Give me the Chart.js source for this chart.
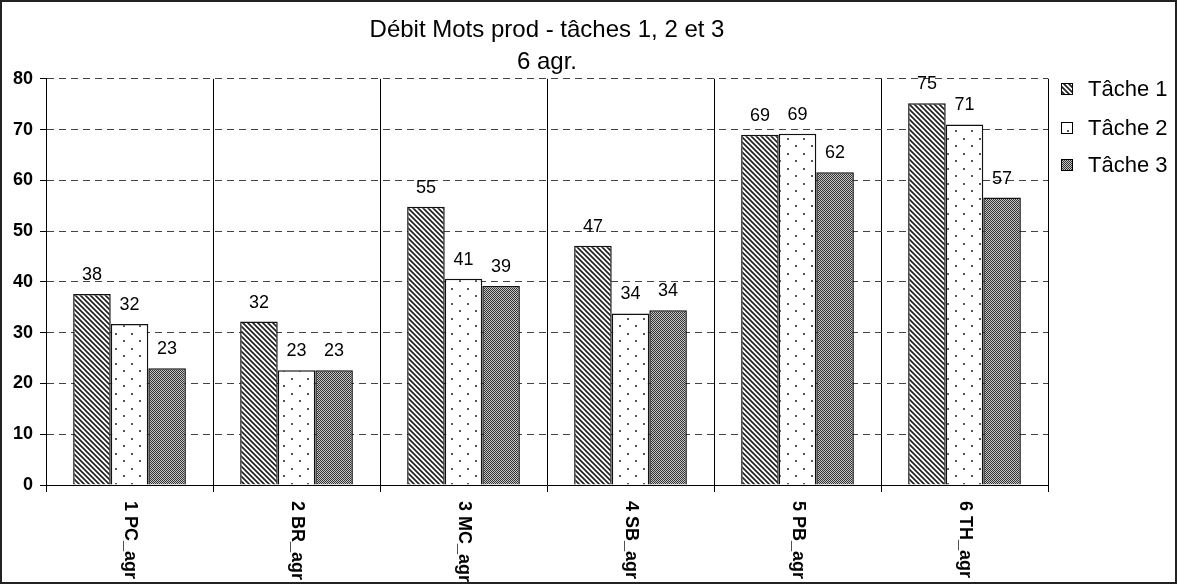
<!DOCTYPE html>
<html>
<head>
<meta charset="utf-8">
<script src="https://cdn.jsdelivr.net/npm/chart.js@4.4.0/dist/chart.umd.min.js"></script>
<style>
  html, body { margin: 0; padding: 0; background: #fff; }
  #wrap { width: 1177px; height: 584px; position: relative; }
</style>
</head>
<body>
<div id="wrap"><canvas id="canvas-1"></canvas></div>
<script>
// data
var categories = ['1 PC_agr', '2 BR_agr', '3 MC_agr', '4 SB_agr', '5 PB_agr', '6 TH_agr'];
var seriesNames = ['Tâche 1', 'Tâche 2', 'Tâche 3'];
var tache1 = [37.6, 32.2, 54.8, 47.1, 69.0, 75.2];
var tache2 = [31.7, 22.6, 40.6, 33.8, 69.2, 71.0];
var tache3 = [23.0, 22.6, 39.2, 34.4, 61.6, 56.6];
var yTicks = [0, 10, 20, 30, 40, 50, 60, 70, 80];
var titleLines = ['Débit Mots prod - tâches 1, 2 et 3', '6 agr.'];

var FONT = '"Liberation Sans", Arial, sans-serif';
Chart.defaults.font.family = FONT;
Chart.defaults.color = '#000';

// fill patterns like the old excel ones
function makePattern(kind) {
  var c = document.createElement('canvas');
  var g = c.getContext('2d');
  if (kind === 'hatch') {
    c.width = 5; c.height = 5;
    g.fillStyle = '#fff'; g.fillRect(0, 0, 5, 5);
    g.strokeStyle = '#222'; g.lineWidth = 1.7;
    g.beginPath();
    g.moveTo(-1, -1); g.lineTo(6, 6);
    g.moveTo(-1, 4); g.lineTo(1, 6);
    g.moveTo(4, -1); g.lineTo(6, 1);
    g.stroke();
  } else if (kind === 'dots') {
    c.width = 16; c.height = 15;
    g.fillStyle = '#fff'; g.fillRect(0, 0, 16, 15);
    g.fillStyle = '#555';
    g.fillRect(3, 3, 2, 2);
    g.fillRect(11, 10, 2, 2);
  } else {
    c.width = 2; c.height = 2;
    g.fillStyle = '#c4c4c4'; g.fillRect(0, 0, 2, 2);
    g.fillStyle = '#333';
    g.fillRect(0, 0, 1, 1);
    g.fillRect(1, 1, 1, 1);
  }
  return g.createPattern(c, 'repeat');
}

var fills = [makePattern('hatch'), makePattern('dots'), makePattern('check')];

// value above each bar
var barValueLabels = {
  id: 'barValueLabels',
  afterDatasetsDraw: function (chart) {
    var ctx = chart.ctx;
    ctx.save();
    ctx.font = '18px ' + FONT;
    ctx.fillStyle = '#000';
    ctx.textAlign = 'center';
    ctx.textBaseline = 'alphabetic';
    chart.data.datasets.forEach(function (ds, i) {
      chart.getDatasetMeta(i).data.forEach(function (bar, j) {
        ctx.fillText(Math.round(ds.data[j]), bar.x, bar.y - 14);
      });
    });
    ctx.restore();
  }
};

// category labels turned clockwise, legend and frame
var extras = {
  id: 'extras',
  afterDraw: function (chart) {
    var ctx = chart.ctx;
    var xs = chart.scales.x;
    ctx.save();
    ctx.font = 'bold 18px ' + FONT;
    ctx.fillStyle = '#000';
    ctx.textAlign = 'left';
    ctx.textBaseline = 'middle';
    categories.forEach(function (lab, i) {
      ctx.save();
      ctx.translate(xs.getPixelForValue(i), chart.chartArea.bottom + 16);
      ctx.rotate(Math.PI / 2);
      ctx.fillText(lab, 0, 0);
      ctx.restore();
    });

    ctx.font = '22px ' + FONT;
    var lx = chart.chartArea.right + 13;
    var ly = [89, 128, 165];
    seriesNames.forEach(function (name, i) {
      ctx.fillStyle = fills[i];
      ctx.fillRect(lx, ly[i] - 6, 12, 12);
      ctx.strokeStyle = '#000';
      ctx.lineWidth = 1;
      ctx.strokeRect(lx + 0.5, ly[i] - 5.5, 11, 11);
      ctx.fillStyle = '#000';
      ctx.fillText(name, lx + 27, ly[i] + 1);
    });

    ctx.strokeStyle = '#222';
    ctx.lineWidth = 2;
    ctx.strokeRect(1, 1, chart.width - 2, chart.height - 2);
    ctx.restore();
  }
};

var barChart = new Chart(document.getElementById('canvas-1'), {
  type: 'bar',
  data: {
    labels: categories,
    datasets: [{
      label: seriesNames[0],
      data: tache1,
      backgroundColor: fills[0],
      borderColor: '#111',
      borderWidth: 1.5
    }, {
      label: seriesNames[1],
      data: tache2,
      backgroundColor: fills[1],
      borderColor: '#111',
      borderWidth: 1.5
    }, {
      label: seriesNames[2],
      data: tache3,
      backgroundColor: fills[2],
      borderColor: '#111',
      borderWidth: 1.5
    }]
  },
  options: {
    responsive: true,
    maintainAspectRatio: false,
    animation: false,
    categoryPercentage: 0.675,
    barPercentage: 1,
    layout: {
      padding: { left: 6, right: 129, top: 0, bottom: 92 }
    },
    plugins: {
      legend: { display: false },
      tooltip: { enabled: false },
      title: {
        display: true,
        fullSize: false,
        text: titleLines,
        color: '#000',
        font: { size: 24, weight: 'normal', lineHeight: 1.35 },
        padding: { top: 14, bottom: 0 }
      }
    },
    scales: {
      x: {
        grid: { color: '#000', offset: true, tickLength: 7, tickColor: '#000' },
        border: { color: '#000', width: 1 },
        ticks: { display: false }
      },
      y: {
        min: 0,
        max: 80,
        afterBuildTicks: function (scale) {
          scale.ticks = yTicks.map(function (v) { return { value: v }; });
        },
        grid: { color: '#444', tickLength: 6, tickColor: '#000' },
        border: { color: '#000', width: 1, dash: [7, 5] },
        ticks: {
          padding: 7,
          color: '#000',
          font: { size: 18, weight: 'bold' }
        }
      }
    }
  },
  plugins: [barValueLabels, extras]
});
</script>
</body>
</html>
